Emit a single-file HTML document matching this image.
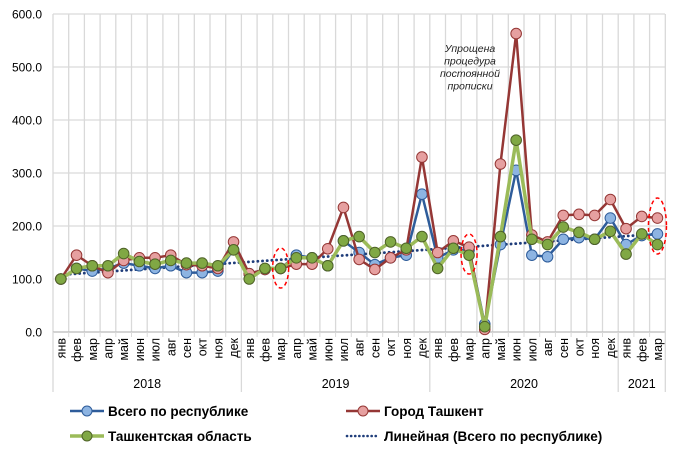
<!DOCTYPE html>
<html><head><meta charset="utf-8"><style>
body{margin:0;background:#fff;}
svg{display:block;font-family:"Liberation Sans",sans-serif;}
</style></head><body>
<svg id="s" width="680" height="453" xmlns="http://www.w3.org/2000/svg"></svg>
<script>
const s=document.getElementById('s');
const NS='http://www.w3.org/2000/svg';
function el(t,a,txt){const e=document.createElementNS(NS,t);for(const k in a)e.setAttribute(k,a[k]);if(txt!==undefined)e.textContent=txt;s.appendChild(e);return e;}
const X0=53,DX=15.7,Y0=332,K=0.53;
const cx=i=>X0+DX*(i+0.5), cy=v=>Y0-v*K;
for(let v=0;v<=600;v+=100){el('line',{x1:X0,x2:665,y1:cy(v),y2:cy(v),stroke:'#d9d9d9','stroke-width':1.3});
 el('text',{x:42,y:cy(v)+4.5,'text-anchor':'end','font-size':12,fill:'#000'},v.toFixed(1));}
for(let i=0;i<=39;i++){el('line',{x1:X0+DX*i,x2:X0+DX*i,y1:14,y2:Y0,stroke:'#d9d9d9','stroke-width':1.3});}
el('line',{x1:X0,x2:665,y1:Y0,y2:Y0,stroke:'#bfbfbf','stroke-width':1.3});
[0,12,24,36,39].forEach(i=>el('line',{x1:X0+DX*i,x2:X0+DX*i,y1:Y0,y2:392,stroke:'#d9d9d9','stroke-width':1.3}));
for(let i=0;i<39;i++)el('line',{x1:X0+DX*i,x2:X0+DX*i,y1:Y0,y2:337,stroke:'#d9d9d9'});
const m=['янв','фев','мар','апр','май','июн','июл','авг','сен','окт','ноя','дек'];
for(let i=0;i<39;i++){const x=cx(i)+4.5;el('text',{x:0,y:0,'font-size':12.5,'text-anchor':'end',transform:`translate(${x},338) rotate(-90)`},m[i%12]);}
[['2018',6],['2019',18],['2020',30],['2021',37.5]].forEach(([t,c])=>el('text',{x:X0+DX*c,y:388,'font-size':12.5,'text-anchor':'middle'},t));
const blue=[100,120,115,120,130,125,120,125,112,112,115,155,110,118,120,145,140,125,172,150,127,140,145,260,140,155,155,15,165,305,145,142,175,178,175,215,165,182,185];
const red=[100,145,125,112,135,140,140,145,127,125,120,170,110,118,120,128,128,157,235,137,118,140,155,330,150,172,160,5,317,563,183,170,220,222,220,250,195,218,215];
const green=[100,120,125,125,148,133,128,135,130,130,125,155,100,120,120,140,140,125,172,180,150,170,158,180,120,158,145,10,180,362,175,165,198,188,175,190,147,185,165];
el('line',{x1:cx(0),y1:cy(108),x2:cx(38),y2:cy(185),stroke:'#1f3d7a','stroke-width':2.8,'stroke-dasharray':'0.1 4.6','stroke-linecap':'round'});
function series(d,lc,fc,oc,w){el('polyline',{points:d.map((v,i)=>cx(i)+','+cy(v)).join(' '),fill:'none',stroke:lc,'stroke-width':w,'stroke-linejoin':'round'});
 d.forEach((v,i)=>el('circle',{cx:cx(i),cy:cy(v),r:5.3,fill:fc,stroke:oc,'stroke-width':1}));}
series(blue,'#2e5c9a','#8db4e2','#2e5c9a',2.5);
series(red,'#953735','#e6a0a0','#953735',2.5);
series(green,'#9bbb59','#80a844','#4f6228',3.5);
[[cx(14),268,8,20],[cx(26),254,8,20],[cx(38),226,9,28]].forEach(([x,y,rx,ry])=>el('ellipse',{cx:x,cy:y,rx:rx,ry:ry,fill:'none',stroke:'#ff0000','stroke-width':1.5,'stroke-dasharray':'4 3'}));
['Упрощена','процедура','постоянной','прописки'].forEach((t,i)=>el('text',{x:470,y:52+i*12.5,'font-size':10.5,'font-style':'italic','text-anchor':'middle',fill:'#222'},t));
function leg(x,y,lc,fc,oc,w,t,dot){if(dot){el('line',{x1:x+1,x2:x+32,y1:y,y2:y,stroke:'#1f3d7a','stroke-width':2.6,'stroke-dasharray':'0.1 4','stroke-linecap':'round'});}
 else{el('line',{x1:x,x2:x+34,y1:y,y2:y,stroke:lc,'stroke-width':w});el('circle',{cx:x+17,cy:y,r:5,fill:fc,stroke:oc});}
 el('text',{x:x+38,y:y+5,'font-size':13.5,'font-weight':'bold'},t);}
leg(70,411,'#2e5c9a','#8db4e2','#2e5c9a',2.5,'Всего по республике');
leg(346,411,'#953735','#e6a0a0','#953735',2.5,'Город Ташкент');
leg(70,436,'#9bbb59','#80a844','#4f6228',3.5,'Ташкентская область');
leg(346,436,'','','',0,'Линейная (Всего по республике)',true);
</script>
</body></html>
